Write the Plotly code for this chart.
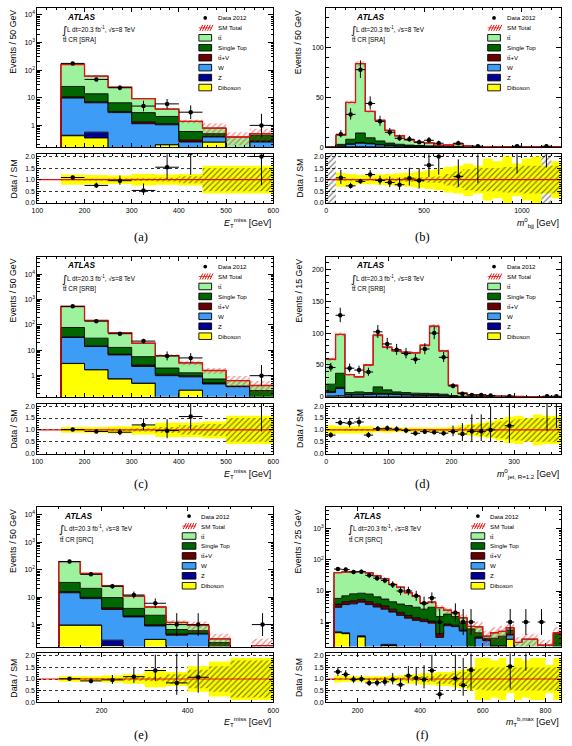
import numpy as np
import plotly.graph_objects as go

FIG_W, FIG_H = 572, 746

# ---------------- colours ----------------
C_TT, C_ST, C_TTV, C_W, C_Z, C_DB = "#9df29d", "#006600", "#6b0000", "#3d9cf5", "#000099", "#ffff00"
C_BAND = "#ffff00"
C_RED = "#e8100f"

# ---------------- (a) ETmiss, tt CR [SRA] ----------------
a_edges = [100, 150, 200, 250, 300, 350, 400, 450, 500, 550, 600]
a_tt = [0, 134.4, 47, 17.4, 6.4, 1.8, 0.8, 0.3, 0.38, 0.06]
a_st = [0, 14.9, 6.8, 3.4, 1.55, 0.95, 0.3, 0.1, 0, 0.17]
a_ttv = [0, 1.0, 0.6, 0.3, 0.2, 0.1, 0.05, 0.02, 0, 0.02]
a_w = [0, 9.3, 6.0, 2.9, 1.15, 0.85, 0.25, 0.13, 0, 0.25]
a_z = [0, 0.02, 0.22, 0, 0, 0, 0, 0, 0, 0]
a_db = [0, 0.42, 0.35, 0, 0, 0.2, 0, 0.25, 0, 0]
a_data = [0, 175, 46, 23, 5, 6, 3, 0, 0, 1]
a_stat = [0, 0.03, 0.04, 0.05, 0.06, 0.08, 0.15, 0.5, 0.5, 0.5]
a_syst = [0, 0.22, 0.2, 0.18, 0.25, 0.22, 0.25, 0.6, 0.6, 0.6]

# ---------------- (b) m0_bjj, tt CR [SRA] ----------------
b_edges = list(range(0, 1201, 50))
b_tt = [0, 9.15, 37, 69.7, 26.5, 20.7, 12.85, 8.55, 5.37, 3.48, 2.98, 1.14, 1.44, 2.64, 0.82,
        0.22, 0.22, 0.21, 0.2, 0.17, 0.17, 0.15, 0.15, 0.11]
b_st = [0, 1.5, 4.5, 9.5, 5.5, 3.5, 2.0, 1.5, 1.0, 0.8, 0.6, 0.4, 0.3, 0.4, 0.2,
        0.08, 0.08, 0.07, 0.06, 0.05, 0.05, 0.04, 0.04, 0.04]
b_ttv = [0, 0.2, 0.6, 0.8, 0.6, 0.5, 0.4, 0.3, 0.2, 0.2, 0.15, 0.1, 0.1, 0.1, 0.05,
         0.03, 0.03, 0.02, 0.02, 0.02, 0.02, 0.01, 0.01, 0.01]
b_w = [0, 1.0, 2.5, 3.5, 3.0, 2.0, 1.5, 1.0, 0.8, 0.6, 0.5, 0.3, 0.3, 0.3, 0.2,
       0.1, 0.1, 0.08, 0.06, 0.05, 0.05, 0.04, 0.04, 0.03]
b_z = [0, 0.05, 0.1, 0.2, 0.1, 0.1, 0.05, 0.05, 0.03, 0.02, 0.02, 0.01, 0.01, 0.01, 0,
       0, 0, 0, 0, 0, 0, 0, 0, 0]
b_db = [0, 0.1, 0.3, 0.3, 0.3, 0.2, 0.2, 0.1, 0.1, 0.1, 0.05, 0.05, 0.05, 0.05, 0.03,
        0.02, 0.02, 0.02, 0.01, 0.01, 0.01, 0.01, 0.01, 0.01]
b_data = [0, 13, 33, 78, 44, 26, 15, 9, 8, 5, 7, 4, 0, 4, 0, 1, 0, 0, 0, 1, 0, 0, 1, 0]
b_stat = [1.2, 0.06, 0.04, 0.03, 0.04, 0.05, 0.06, 0.08, 0.09, 0.1, 0.12, 0.14, 0.25, 0.35, 0.45,
          0.5, 0.5, 0.5, 0.55, 0.55, 0.6, 0.6, 1.2, 0.6]
b_syst = [0, 0.3, 0.25, 0.2, 0.2, 0.22, 0.25, 0.28, 0.3, 0.35, 0.4, 0.45, 0.55, 0.6, 0.7,
          0.6, 0.9, 0.8, 1.0, 0.7, 0.9, 1.0, 0.6, 0.8]

# ---------------- (c) ETmiss, tt CR [SRB] ----------------
c_edges = [100, 150, 200, 250, 300, 350, 400, 450, 500, 550, 600]
c_tt = [0, 451, 120, 37, 13.4, 4.2, 1.9, 0.86, 0.25, 0.15]
c_st = [0, 45, 15, 5.9, 3.0, 0.85, 0.3, 0.22, 0, 0.24]
c_ttv = [0, 2, 1, 0.5, 0.3, 0.15, 0.1, 0.05, 0.02, 0.02]
c_w = [0, 29, 12.3, 5.8, 1.8, 1.0, 0.63, 0.47, 0.37, 0]
c_z = [0, 0.05, 0.03, 0.02, 0.01, 0, 0, 0, 0, 0]
c_db = [0, 3.0, 1.7, 0.74, 0.5, 0, 0.27, 0, 0, 0]
c_data = [0, 540, 140, 45, 23, 6, 5, 0, 0, 1]
c_stat = [0, 0.02, 0.03, 0.05, 0.07, 0.12, 0.2, 0.25, 0.5, 0.5]
c_syst = [0, 0.12, 0.12, 0.15, 0.2, 0.3, 0.3, 0.35, 0.6, 0.6]

# ---------------- (d) m0_jet,R=1.2, tt CR [SRB] ----------------
d_edges = list(range(0, 376, 15))
d_tt = [39.1, 61, 28.2, 23.7, 43.2, 81.3, 67, 64.2, 63.2, 63.2, 75.5, 106, 67.8, 16.3, 5.2,
        2.65, 2.65, 1.57, 1.02, 0.58, 0.43, 0.35, 0.31, 0.26, 0.21]
d_st = [11.6, 22, 3.2, 4.0, 2.5, 10.2, 5.8, 3.3, 2.8, 2.3, 2.3, 1.5, 1.5, 0.8, 0.3,
        0.2, 0.2, 0.15, 0.1, 0.1, 0.05, 0.05, 0.05, 0.05, 0.05]
d_ttv = [1.5, 2.0, 0.6, 0.8, 0.8, 1.5, 1.2, 1.0, 1.0, 1.0, 1.2, 1.5, 1.2, 0.4, 0.2,
         0.1, 0.1, 0.1, 0.05, 0.05, 0.05, 0.03, 0.03, 0.03, 0.03]
d_w = [5.5, 11.2, 2.4, 2.4, 2.9, 3.3, 3.4, 3.1, 2.6, 2.1, 1.7, 1.7, 1.2, 0.65, 0.3,
       0.2, 0.2, 0.15, 0.1, 0.1, 0.05, 0.05, 0.05, 0.05, 0.05]
d_z = [0.5, 0.8, 0.2, 0.2, 0.2, 0.2, 0.2, 0.1, 0.1, 0.1, 0.1, 0.1, 0.1, 0.05, 0.02,
       0, 0, 0, 0, 0, 0, 0, 0, 0, 0]
d_db = [0.8, 1.0, 0.4, 0.4, 0.4, 0.5, 0.4, 0.3, 0.3, 0.3, 0.2, 0.2, 0.2, 0.1, 0.05,
        0.05, 0.05, 0.03, 0.03, 0.02, 0.02, 0.02, 0.01, 0.01, 0.01]
d_data = [46, 128, 45, 42, 39, 102, 83, 74, 68, 59, 75, 100, 62, 17, 5, 3, 3, 2, 0, 1, 0, 0, 0, 1, 1]
d_stat = [0.04, 0.03, 0.05, 0.05, 0.04, 0.03, 0.03, 0.03, 0.03, 0.03, 0.03, 0.03, 0.03, 0.05, 0.1,
          0.2, 0.25, 0.3, 0.35, 0.4, 0.45, 0.5, 0.5, 0.5, 0.5]
d_syst = [0.2, 0.15, 0.15, 0.15, 0.15, 0.1, 0.12, 0.1, 0.1, 0.1, 0.1, 0.1, 0.1, 0.12, 0.2,
          0.25, 0.3, 0.35, 0.45, 0.55, 0.6, 0.5, 0.65, 0.6, 0.6]

# ---------------- (e) ETmiss, tt CR [SRC] ----------------
e_edges = [50, 100, 150, 200, 250, 300, 350, 400, 450, 500, 550, 600]
e_tt = [0, 163.5, 53, 16.3, 7.0, 2.2, 0.54, 0.33, 0.08, 0.05, 0.17]
e_st = [0, 18.5, 11.1, 5.6, 1.8, 1.2, 0.2, 0.12, 0.2, 0, 0]
e_ttv = [0, 1.5, 1.0, 0.5, 0.2, 0.1, 0.05, 0.03, 0.02, 0, 0]
e_w = [0, 13.5, 7.9, 3.3, 1.9, 0.6, 0.41, 0.45, 0, 0, 0]
e_z = [0, 0.02, 0.02, 0.1, 0, 0, 0, 0, 0, 0, 0]
e_db = [0, 0.95, 0.95, 0.17, 0, 0.29, 0, 0, 0, 0, 0]
e_data = [0, 200, 68, 25, 12, 6, 1, 1, 0, 0, 1]
e_stat = [0, 0.03, 0.03, 0.04, 0.08, 0.1, 0.2, 0.4, 0.55, 0.8, 0.8]
e_syst = [0, 0.12, 0.12, 0.15, 0.2, 0.35, 0.3, 0.55, 0.75, 0.9, 0.9]

# ---------------- (f) mT^b,max, tt CR [SRC] ----------------
f_edges = list(range(100, 851, 25))
f_tt = [0, 33.2, 34, 33.9, 33.5, 30.5, 24.5, 19.5, 11.8, 9.5, 5.4, 3.7, 1.5, 1.4, 1.4,
        0.6, 0.45, 0.47, 0.12, 0.25, 0.05, 0.15, 0.15, 0.1, 0.1, 0.13, 0.13, 0.08, 0.08, 0.03]
f_st = [0, 2.0, 2.45, 3.24, 3.14, 3.45, 2.65, 2.21, 1.91, 1.76, 1.77, 1.62, 1.37, 1.93, 1.08,
        0.94, 0.71, 0.34, 0.51, 0.12, 0.03, 0.13, 0.18, 0.15, 0.06, 0.09, 0.09, 0.04, 0.07, 0.35]
f_ttv = [0, 0.8, 0.9, 1.0, 1.0, 0.9, 0.8, 0.7, 0.5, 0.4, 0.3, 0.25, 0.2, 0.15, 0.1,
         0.1, 0.08, 0.05, 0.04, 0.03, 0.02, 0.02, 0.02, 0.02, 0.01, 0.01, 0.01, 0.01, 0.01, 0.02]
f_w = [0, 2.5, 3.2, 3.8, 4.0, 3.6, 3.0, 2.4, 1.9, 1.6, 1.3, 1.1, 1.0, 0.9, 0.3,
       0.75, 0.7, 0.5, 0.05, 0.3, 0.25, 0.15, 0.15, 0.1, 0.05, 0.05, 0.05, 0.05, 0.02, 0.05]
f_z = [0, 0.03, 0.03, 0.03, 0.03, 0.03, 0.03, 0.02, 0.02, 0.02, 0.01, 0.01, 0.01, 0.01, 0.01,
       0, 0, 0, 0, 0, 0, 0, 0, 0, 0, 0, 0, 0, 0, 0]
f_db = [0, 0.45, 0.42, 0.03, 0.33, 0.02, 0.02, 0.17, 0.17, 0.02, 0.02, 0.02, 0.02, 0.01, 0.01,
        0.01, 0.01, 0.01, 0, 0, 0, 0, 0, 0.28, 0, 0, 0, 0, 0, 0]
f_data = [0, 51, 49, 41, 42, 32, 26, 22, 16, 10, 10, 7, 4, 6, 1, 0, 2, 1, 1, 0, 0, 0, 0, 1, 0, 1, 0, 1, 0, 0]
f_stat = [0, 0.04, 0.04, 0.04, 0.04, 0.04, 0.05, 0.05, 0.06, 0.07, 0.08, 0.1, 0.12, 0.12, 0.2,
          0.2, 0.25, 0.3, 0.4, 0.45, 0.5, 0.5, 0.5, 0.5, 0.5, 0.5, 0.5, 0.5, 0.5, 0.5]
f_syst = [0, 0.15, 0.12, 0.12, 0.12, 0.12, 0.12, 0.12, 0.15, 0.15, 0.2, 0.2, 0.25, 0.25, 0.3,
          0.3, 0.35, 0.4, 0.5, 0.9, 0.9, 0.8, 0.9, 0.6, 0.9, 0.8, 0.9, 0.9, 0.6, 0.9]

ETMISS = "<i>E</i><sub>T</sub><sup>miss</sup> [GeV]"
panels = [
    dict(edges=a_edges, tt=a_tt, st=a_st, ttv=a_ttv, w=a_w, z=a_z, db=a_db, data=a_data, stat=a_stat, syst=a_syst,
         log=True, yr=[-0.79, 4.25], xr=[100, 600], dx=100, mx=20, col=0, row=0, cr="SRA",
         ytitle="Events / 50 GeV", xtitle=ETMISS, cap="(a)", leg="std"),
    dict(edges=b_edges, tt=b_tt, st=b_st, ttv=b_ttv, w=b_w, z=b_z, db=b_db, data=b_data, stat=b_stat, syst=b_syst,
         log=False, yr=[0, 140], ydt=50, ymt=10, xr=[0, 1200], dx=500, mx=50, col=1, row=0, cr="SRA",
         ytitle="Events / 50 GeV", xtitle="<i>m</i><sup>0</sup><sub>bjj</sub> [GeV]", cap="(b)", leg="std"),
    dict(edges=c_edges, tt=c_tt, st=c_st, ttv=c_ttv, w=c_w, z=c_z, db=c_db, data=c_data, stat=c_stat, syst=c_syst,
         log=True, yr=[-0.835, 4.69], xr=[100, 600], dx=100, mx=20, col=0, row=1, cr="SRB",
         ytitle="Events / 50 GeV", xtitle=ETMISS, cap="(c)", leg="std"),
    dict(edges=d_edges, tt=d_tt, st=d_st, ttv=d_ttv, w=d_w, z=d_z, db=d_db, data=d_data, stat=d_stat, syst=d_syst,
         log=False, yr=[0, 220], ydt=50, ymt=10, xr=[0, 375], dx=100, mx=20, col=1, row=1, cr="SRB",
         ytitle="Events / 15 GeV", xtitle="<i>m</i><sup>0</sup><sub>jet, R=1.2</sub> [GeV]", cap="(d)", leg="std"),
    dict(edges=e_edges, tt=e_tt, st=e_st, ttv=e_ttv, w=e_w, z=e_z, db=e_db, data=e_data, stat=e_stat, syst=e_syst,
         log=True, yr=[-0.8, 4.28], xr=[50, 600], dx=200, mx=50, col=0, row=2, cr="SRC",
         ytitle="Events / 50 GeV", xtitle=ETMISS, cap="(e)", leg="left"),
    dict(edges=f_edges, tt=f_tt, st=f_st, ttv=f_ttv, w=f_w, z=f_z, db=f_db, data=f_data, stat=f_stat, syst=f_syst,
         log=True, yr=[-0.79, 3.70], xr=[100, 850], dx=200, mx=50, col=1, row=2, cr="SRC",
         ytitle="Events / 25 GeV", xtitle="<i>m</i><sub>T</sub><sup>b,max</sup> [GeV]", cap="(f)", leg="left"),
]

COLS = [(32, 241), (327, 240)]
ROWS_MAIN = [(7, 140), (257, 141), (509, 140)]
ROWS_RATIO = [(154, 49), (405, 50), (656, 49)]

FONT = "Liberation Sans"
TICKF = dict(family=FONT, size=7, color="black")


def dom_x(x0, w):
    return [x0 / FIG_W, (x0 + w) / FIG_W]


def dom_y(top, h):
    return [1 - (top + h) / FIG_H, 1 - top / FIG_H]


def stepy(v):
    v = list(v)
    return v + [v[-1]]


def axname(n):
    return "" if n == 1 else str(n)


def poisson_err(n):
    n = np.asarray(n, float)
    up = np.where(n > 0, np.sqrt(n + 0.25) + 0.5, 0)
    dn = np.where(n > 0, np.sqrt(n + 0.25) - 0.5, 0)
    return up, dn


fig = go.Figure()
layout = dict(width=FIG_W, height=FIG_H, margin=dict(l=0, r=0, t=0, b=0),
              paper_bgcolor="white", plot_bgcolor="white", showlegend=False)
shapes, anns = [], []

for i, p in enumerate(panels):
    m, r = 2 * i + 1, 2 * i + 2
    xm, ym, xr_, yr_ = "x" + axname(m), "y" + axname(m), "x" + axname(r), "y" + axname(r)
    x0, w = COLS[p["col"]]
    mt, mh = ROWS_MAIN[p["row"]]
    rt, rh = ROWS_RATIO[p["row"]]
    edges = np.array(p["edges"], float)
    n = len(edges) - 1
    centers = 0.5 * (edges[:-1] + edges[1:])
    half = 0.5 * np.diff(edges)
    floor = 1e-3 if p["log"] else 0.0
    common_m = dict(xaxis=xm, yaxis=ym, hoverinfo="skip", showlegend=False)
    common_r = dict(xaxis=xr_, yaxis=yr_, hoverinfo="skip", showlegend=False)

    # ---- stacked backgrounds ----
    fig.add_trace(go.Scatter(x=edges, y=stepy(np.full(n, max(floor, 0))), mode="lines",
                             line=dict(width=0, shape="hv"), **common_m))
    cum = np.zeros(n)
    for key, col in [("db", C_DB), ("z", C_Z), ("w", C_W), ("ttv", C_TTV), ("st", C_ST), ("tt", C_TT)]:
        cum = cum + np.array(p[key], float)
        fig.add_trace(go.Scatter(x=edges, y=stepy(np.maximum(cum, floor)), mode="lines",
                                 line=dict(color="black", width=0.9, shape="hv"),
                                 fill="tonexty", fillcolor=col, **common_m))
    tot = cum
    stat = np.array(p["stat"], float)
    syst = np.array(p["syst"], float)
    lo = np.maximum(tot * (1 - stat), floor)
    hi = np.maximum(tot * (1 + stat), floor)
    fig.add_trace(go.Scatter(x=edges, y=stepy(lo), mode="lines", line=dict(width=0, shape="hv"), **common_m))
    fig.add_trace(go.Scatter(x=edges, y=stepy(hi), mode="lines", line=dict(width=0, shape="hv"),
                             fill="tonexty", fillcolor="rgba(0,0,0,0)",
                             fillpattern=dict(shape="/", fgcolor=C_RED, bgcolor="rgba(0,0,0,0)", size=4, solidity=0.3),
                             **common_m))
    fig.add_trace(go.Scatter(x=edges, y=stepy(np.maximum(tot, floor)), mode="lines",
                             line=dict(color=C_RED, width=1.3, shape="hv"), **common_m))

    # ---- data ----
    data = np.array(p["data"], float)
    up, dn = poisson_err(data)
    yd = [v if v > 0 else None for v in data]
    fig.add_trace(go.Scatter(x=centers, y=yd, mode="markers", marker=dict(color="black", size=4.5),
                             error_y=dict(type="data", symmetric=False, array=up, arrayminus=dn,
                                          color="black", thickness=1, width=0),
                             error_x=dict(type="data", array=half, color="black", thickness=1, width=0),
                             **common_m))

    # ---- ratio panel ----
    fig.add_trace(go.Scatter(x=edges, y=stepy(1 - syst), mode="lines", line=dict(width=0, shape="hv"), **common_r))
    fig.add_trace(go.Scatter(x=edges, y=stepy(1 + syst), mode="lines", line=dict(width=0, shape="hv"),
                             fill="tonexty", fillcolor=C_BAND, **common_r))
    fig.add_trace(go.Scatter(x=edges, y=stepy(1 - stat), mode="lines", line=dict(width=0, shape="hv"), **common_r))
    fig.add_trace(go.Scatter(x=edges, y=stepy(1 + stat), mode="lines", line=dict(width=0, shape="hv"),
                             fill="tonexty", fillcolor="rgba(0,0,0,0)",
                             fillpattern=dict(shape="/", fgcolor="black", bgcolor="rgba(0,0,0,0)", size=4, solidity=0.3),
                             **common_r))
    fig.add_trace(go.Scatter(x=p["xr"], y=[1, 1], mode="lines", line=dict(color=C_RED, width=1.2), **common_r))
    ok = (data > 0) & (tot > 0)
    rat = [d / t if o else None for d, t, o in zip(data, tot, ok)]
    rup = np.where(ok, up / np.where(tot > 0, tot, 1), 0)
    rdn = np.where(ok, dn / np.where(tot > 0, tot, 1), 0)
    fig.add_trace(go.Scatter(x=centers, y=rat, mode="markers", marker=dict(color="black", size=4.5),
                             error_y=dict(type="data", symmetric=False, array=rup, arrayminus=rdn,
                                          color="black", thickness=1, width=0),
                             error_x=dict(type="data", array=half, color="black", thickness=1, width=0),
                             **common_r))

    # ---- axes ----
    base_ax = dict(showline=True, linecolor="black", linewidth=1, mirror="ticks", ticks="inside",
                   ticklen=4, tickcolor="black", tickwidth=0.8, tickfont=TICKF, showgrid=False, zeroline=False)
    minor_x = dict(ticks="inside", ticklen=2, tickcolor="black", dtick=p["mx"], showgrid=False)
    layout["xaxis" + axname(m)] = dict(base_ax, domain=dom_x(x0, w), anchor=ym, range=p["xr"],
                                       dtick=p["dx"], tick0=0, showticklabels=False, minor=minor_x)
    layout["xaxis" + axname(r)] = dict(base_ax, domain=dom_x(x0, w), anchor=yr_, range=p["xr"],
                                       dtick=p["dx"], tick0=0, minor=minor_x, ticklabelstandoff=1)
    if p["log"]:
        k0, k1 = int(np.floor(p["yr"][0])), int(np.ceil(p["yr"][1]))
        tv = [10.0 ** k for k in range(max(k0, 0), k1 + 1)]
        tt_ = ["1" if k == 0 else ("10" if k == 1 else f"10<sup>{k}</sup>") for k in range(max(k0, 0), k1 + 1)]
        mv = [j * 10.0 ** k for k in range(k0, k1 + 1) for j in range(2, 10)]
        layout["yaxis" + axname(m)] = dict(base_ax, domain=dom_y(mt, mh), anchor=xm, type="log", range=p["yr"],
                                           tickmode="array", tickvals=tv, ticktext=tt_, ticklen=5,
                                           minor=dict(tickmode="array", tickvals=mv, ticks="inside", ticklen=2.5,
                                                      tickcolor="black", showgrid=False))
    else:
        layout["yaxis" + axname(m)] = dict(base_ax, domain=dom_y(mt, mh), anchor=xm, range=p["yr"],
                                           dtick=p["ydt"], tick0=0, ticklen=5,
                                           minor=dict(ticks="inside", ticklen=2.5, tickcolor="black",
                                                      dtick=p["ymt"], showgrid=False))
    layout["yaxis" + axname(r)] = dict(base_ax, domain=dom_y(rt, rh), anchor=xr_, range=[0, 2.1],
                                       tickmode="array", tickvals=[0, 0.5, 1, 1.5, 2],
                                       ticktext=["0.0", "0.5", "1.0", "1.5", "2.0"],
                                       showgrid=True, gridcolor="#333333", griddash="dot", gridwidth=0.7,
                                       minor=dict(tickmode="array", tickvals=[v / 10 for v in range(1, 21)],
                                                  ticks="inside", ticklen=2, tickcolor="black", showgrid=False))

    dxm, dym = xm + " domain", ym + " domain"
    dxr, dyr = xr_ + " domain", yr_ + " domain"

    def fx(px):
        return px / w

    def fy(py):
        return 1 - py / mh

    # ---- ATLAS label ----
    atl = 28 if p["leg"] == "std" else 25
    anns.append(dict(xref=dxm, yref=dym, x=fx(atl), y=fy(8.7), xanchor="left", yanchor="middle",
                     text="<b><i>ATLAS</i></b>", showarrow=False, font=dict(family=FONT, size=8.3, color="black")))
    anns.append(dict(xref=dxm, yref=dym, x=fx(atl - 4.5), y=fy(22.5), xanchor="left", yanchor="middle",
                     text="∫", showarrow=False, font=dict(family="DejaVu Sans", size=11, color="black")))
    anns.append(dict(xref=dxm, yref=dym, x=fx(atl), y=fy(21.3), xanchor="left", yanchor="middle",
                     text="L dt=20.3 fb<sup>-1</sup>, √s=8 TeV", showarrow=False,
                     font=dict(family=FONT, size=6.4, color="black")))
    anns.append(dict(xref=dxm, yref=dym, x=fx(atl - 4), y=fy(32.5), xanchor="left", yanchor="middle",
                     text=f"tt\u0304 CR [{p['cr']}]", showarrow=False, font=dict(family=FONT, size=6.4, color="black")))

    # ---- legend ----
    if p["leg"] == "std":
        bx, bw, tx, y0 = 165, 13, 183, 10.0
    else:
        bx, bw, tx, y0 = 148, 14, 165, 8.9
    items = [("data", "Data 2012"), ("sm", "SM Total"), (C_TT, "tt\u0304"), (C_ST, "Single Top"),
             (C_TTV, "tt\u0304+V"), (C_W, "W"), (C_Z, "Z"), (C_DB, "Diboson")]
    for j, (kind, label) in enumerate(items):
        yc = y0 + 10 * j
        if kind == "data":
            cxp = bx + bw / 2
            shapes.append(dict(type="circle", xref=dxm, yref=dym, x0=fx(cxp - 1.9), x1=fx(cxp + 1.9),
                               y0=fy(yc + 1.9), y1=fy(yc - 1.9), fillcolor="black", line=dict(width=0)))
        elif kind == "sm":
            for q in range(5):
                xa = bx + 1 + q * 2.6
                shapes.append(dict(type="line", xref=dxm, yref=dym, x0=fx(xa), x1=fx(xa + 3),
                                   y0=fy(yc + 3), y1=fy(yc - 3), line=dict(color=C_RED, width=1)))
            shapes.append(dict(type="line", xref=dxm, yref=dym, x0=fx(bx), x1=fx(bx + bw),
                               y0=fy(yc), y1=fy(yc), line=dict(color=C_RED, width=0.8)))
        else:
            shapes.append(dict(type="rect", xref=dxm, yref=dym, x0=fx(bx), x1=fx(bx + bw),
                               y0=fy(yc + 3.3), y1=fy(yc - 3.3), fillcolor=kind, line=dict(color="black", width=0.9)))
        anns.append(dict(xref=dxm, yref=dym, x=fx(tx), y=fy(yc), xanchor="left", yanchor="middle",
                         text=label, showarrow=False, font=dict(family=FONT, size=6.2, color="black")))

    # ---- axis titles ----
    yoff = 25 if p["col"] == 0 else 28.5
    anns.append(dict(xref=dxm, yref=dym, x=fx(-yoff), y=1, xanchor="center", yanchor="top", textangle=-90,
                     text=p["ytitle"], showarrow=False, font=dict(family=FONT, size=8.8, color="black")))
    anns.append(dict(xref=dxr, yref=dyr, x=fx(-(yoff - 1)), y=0.5, xanchor="center", yanchor="middle",
                     textangle=-90, text="Data / SM", showarrow=False, font=dict(family=FONT, size=8.8, color="black")))
    anns.append(dict(xref=dxr, yref=dyr, x=1, y=0, yshift=-11, xanchor="right", yanchor="top",
                     text=p["xtitle"], showarrow=False, font=dict(family=FONT, size=8.8, color="black")))
    # ---- caption ----
    capx = 138 if p["col"] == 0 else 425
    capy = [237, 486, 738][p["row"]]
    anns.append(dict(xref="paper", yref="paper", x=capx / FIG_W, y=1 - capy / FIG_H, xanchor="center",
                     yanchor="middle", text=p["cap"], showarrow=False,
                     font=dict(family="Liberation Serif", size=12.5, color="black")))

layout["shapes"] = shapes
layout["annotations"] = anns
fig.update_layout(**layout)
fig.write_html("out.html")
